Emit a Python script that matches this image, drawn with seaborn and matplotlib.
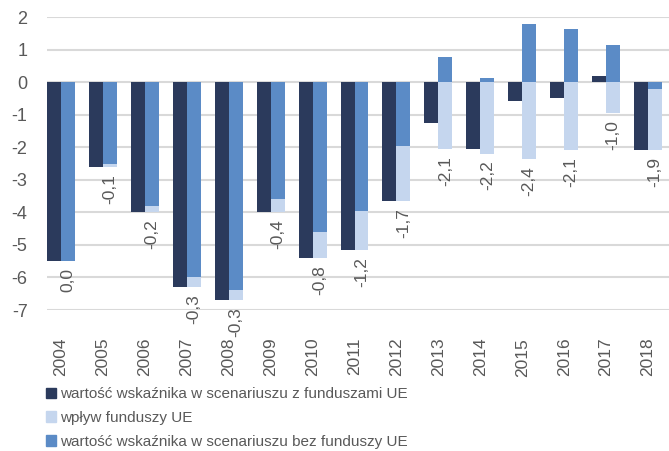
import numpy as np
import pandas as pd
import matplotlib
matplotlib.use("Agg")
import matplotlib.pyplot as plt
import seaborn as sns
from matplotlib.patches import Patch

# Data
years = [str(y) for y in range(2004, 2019)]
z_funduszami = [-5.5, -2.6, -4.0, -6.3, -6.7, -4.0, -5.4, -5.15, -3.65, -1.27, -2.06, -0.58, -0.48, 0.2, -2.1]
wplyw = [0.0, -0.1, -0.2, -0.3, -0.3, -0.4, -0.8, -1.2, -1.7, -2.06, -2.2, -2.36, -2.1, -0.96, -1.9]
bez_funduszy = [-5.5, -2.5, -3.8, -6.0, -6.4, -3.6, -4.6, -3.95, -1.95, 0.78, 0.14, 1.78, 1.62, 1.15, -0.2]

legend_labels = ["wartość wskaźnika w scenariuszu z funduszami UE",
                 "wpływ funduszy UE",
                 "wartość wskaźnika w scenariuszu bez funduszy UE"]

# Colours
kol_z = "#2B3A5C"
kol_wplyw = "#C5D6EE"
kol_bez = "#5B8BC6"
szary = "#595959"

sns.set_theme(style="white")
plt.rcParams['font.family'] = ['Liberation Sans', 'DejaVu Sans']
plt.rcParams['axes.unicode_minus'] = False

# stacked part: light bar goes below the negative part of "bez" (Excel stacking)
dol = np.minimum(np.array(bez_funduszy), 0) + np.array(wplyw)

n = len(years)
df1 = pd.DataFrame({"rok": years * 2,
                    "seria": ["z"] * n + ["bez"] * n,
                    "wartosc": list(z_funduszami) + list(dol)})
df2 = pd.DataFrame({"rok": years * 2,
                    "seria": ["z"] * n + ["bez"] * n,
                    "wartosc": [np.nan] * n + list(bez_funduszy)})

fig = plt.figure(figsize=(6.69, 4.51), dpi=100)
ax = fig.add_axes([47/669, 1 - 310/451, 622/669, 293/451])

szer = 0.667
sns.barplot(data=df1, x="rok", y="wartosc", hue="seria", hue_order=["z", "bez"],
            palette={"z": kol_z, "bez": kol_wplyw}, width=szer, errorbar=None,
            saturation=1, legend=False, linewidth=0, ax=ax)
sns.barplot(data=df2, x="rok", y="wartosc", hue="seria", hue_order=["z", "bez"],
            palette={"z": kol_z, "bez": kol_bez}, width=szer, errorbar=None,
            saturation=1, legend=False, linewidth=0, ax=ax)

# data labels (impact of EU funds)
for i, v in enumerate(wplyw):
    ax.annotate(f"{v:.1f}".replace(".", ","), xy=(i + szer / 4, dol[i]),
                xytext=(0, -5), textcoords="offset points", rotation=90,
                ha="center", va="top", fontsize=12.5, color=szary,
                annotation_clip=False)

ax.set_ylim(-7, 2)
ax.set_yticks(range(-7, 3))
ax.set_xlim(-0.5 + 7/42, n - 0.5)
ax.grid(axis="y", color="#D9D9D9", linewidth=1.5)
ax.set_axisbelow(True)
sns.despine(ax=ax, left=True, bottom=True)
ax.set_xlabel("")
ax.set_ylabel("")
ax.tick_params(axis="y", length=0, pad=14, labelsize=13, colors=szary)
ax.tick_params(axis="x", length=0, pad=20, labelsize=12.5, colors=szary, labelrotation=90)

uchwyty = [Patch(color=kol_z), Patch(color=kol_wplyw), Patch(color=kol_bez)]
fig.legend(handles=uchwyty, labels=legend_labels, loc="upper left",
           bbox_to_anchor=(46/669, 1 - 387/451), frameon=False, fontsize=11,
           labelcolor=szary, handlelength=0.65, handleheight=0.65,
           handletextpad=0.3, labelspacing=0.65, borderpad=0, borderaxespad=0)

fig.savefig("out.png", dpi=100)
